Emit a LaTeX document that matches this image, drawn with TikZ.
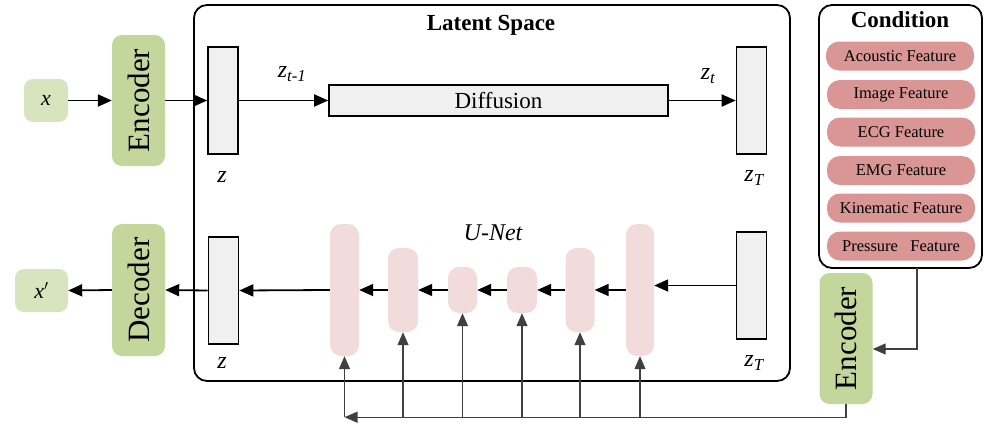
\documentclass[tikz,border=0pt]{standalone}
\usepackage{fontspec}
\usepackage{graphicx}
\setmainfont{Liberation Serif}
\usetikzlibrary{arrows.meta,calc}
\definecolor{xgreen}{HTML}{D7E4BD}
\definecolor{encgreen}{HTML}{C3D69B}
\definecolor{boxgrey}{HTML}{F0F0F0}
\definecolor{unetpink}{HTML}{F2DCDB}
\definecolor{pillred}{HTML}{D99694}
\definecolor{darkline}{HTML}{404040}
\tikzset{
  xbox/.style={fill=xgreen, rounded corners=9pt, inner sep=0pt, font=\fontsize{22}{22}\selectfont\itshape},
  codebox/.style={fill=encgreen, rounded corners=10pt, inner sep=0pt, minimum width=53pt, minimum height=131pt, font=\fontsize{31}{31}\selectfont},
  zbox/.style={draw=black, line width=1.6pt, fill=boxgrey, inner sep=0pt, minimum width=30pt, minimum height=107pt},
  unet/.style={fill=unetpink, rounded corners=11pt, inner sep=0pt},
  pill/.style={fill=pillred, rounded corners=13pt, inner sep=0pt, minimum width=148pt, minimum height=29pt, font=\fontsize{16.5}{16.5}\selectfont},
  frame/.style={draw=black, line width=1.8pt, rounded corners=13pt, inner sep=0pt},
  lbl/.style={inner sep=0pt, font=\fontsize{24}{24}\selectfont\itshape},
  arr/.style={-{Triangle[length=14pt,width=12pt]}, line width=1.8pt},
  carr/.style={-{Triangle[length=13pt,width=11pt]}, line width=1.2pt, draw=darkline},
}
\begin{document}
\begin{tikzpicture}[x=1pt,y=-1pt]
\useasboundingbox (0,0) rectangle (995,423);
% frames
\node[frame, minimum width=596pt, minimum height=376pt] (latent) at (492,193) {};
\node[inner sep=0pt, font=\fontsize{23}{23}\selectfont\bfseries] (ltitle) at (491,25) {Latent Space};
\node[frame, minimum width=163pt, minimum height=263pt] (cond) at (900.5,136.5) {};
\node[inner sep=0pt, font=\fontsize{23}{23}\selectfont\bfseries] (ctitle) at (900,20) {Condition};
% top row
\node[xbox, minimum width=44pt, minimum height=43pt] (x) at (46,100.5) {x};
\node[codebox] (enc1) at (138.5,100.5) {\rotatebox{90}{Encoder}};
\node[zbox] (z1) at (223,100.5) {};
\node[draw=black, line width=1.6pt, fill=boxgrey, minimum width=339pt, minimum height=31pt, inner sep=0pt, font=\fontsize{23}{23}\selectfont] (diff) at (498.5,100.5) {Diffusion};
\node[zbox] (zT1) at (751.5,100.5) {};
\node[lbl] (lz1) at (222,177) {z};
\node[lbl] (lzT1) at (754,178) {z\textsubscript{T}};
\node[lbl] (lzt1) at (292,74) {z\textsubscript{t-1}};
\node[lbl] (lzt) at (708,76) {z\textsubscript{t}};
\draw[arr] (x) -- (enc1);
\draw[arr] (enc1) -- (z1);
\draw[arr] (z1) -- (diff);
\draw[arr] (diff) -- (zT1);
% bottom row
\node[zbox] (z2) at (223.5,290.5) {};
\node[codebox, minimum height=132pt] (dec) at (138.5,290) {\rotatebox{90}{Decoder}};
\node[xbox, minimum width=53pt, minimum height=43pt] (xp) at (41.5,290.5) {x$'$};
\node[unet, minimum width=29pt, minimum height=132pt] (b1) at (344.5,290) {};
\node[unet, minimum width=30pt, minimum height=84pt] (b2) at (403,290) {};
\node[unet, minimum width=29pt, minimum height=46pt] (b3) at (462.5,290) {};
\node[unet, minimum width=30pt, minimum height=46pt] (b4) at (522,290) {};
\node[unet, minimum width=29pt, minimum height=84pt] (b5) at (580,290) {};
\node[unet, minimum width=28pt, minimum height=132pt] (b6) at (640,290) {};
\node[zbox] (zT2) at (751.5,285.5) {};
\node[lbl] (lunet) at (493,233) {U-Net};
\node[lbl] (lz2) at (222,363) {z};
\node[lbl] (lzT2) at (754,363) {z\textsubscript{T}};
\draw[arr] (zT2.west) -- (zT2.west -| b6.east);
\draw[arr] (b6) -- (b5);
\draw[arr] (b5) -- (b4);
\draw[arr] (b4) -- (b3);
\draw[arr] (b3) -- (b2);
\draw[arr] (b2) -- (b1);
\draw[arr] (b1.west) -- (z2.east);
\draw[arr] (z2.west) -- (dec.east);
\draw[arr] (dec.west) -- (xp.east);
% condition
\node[pill] (f1) at (900,56) {Acoustic Feature};
\node[pill] (f2) at (901,94.5) {Image Feature};
\node[pill] (f3) at (901,132) {ECG Feature};
\node[pill] (f4) at (901,170.5) {EMG Feature};
\node[pill] (f5) at (901,208) {Kinematic Feature};
\node[pill] (f6) at (901,246) {Pressure\ \ \ Feature};
\node[codebox] (enc2) at (846,338.5) {\rotatebox{90}{Encoder}};
\coordinate (cA) at (917,268);
\coordinate (cB) at (917,349);
\draw[carr] (cA) -- (cB) -- (cB -| enc2.east);
\coordinate (busR) at ($(enc2.south)+(0,13)$);
\coordinate (busL) at (busR -| b1.south);
\draw[carr] (enc2.south) -- (busR) -- (busL);
\foreach \b in {b1,b2,b3,b4,b5,b6}{
  \draw[carr] (\b.south |- busL) -- (\b.south);
}
\end{tikzpicture}
\end{document}
